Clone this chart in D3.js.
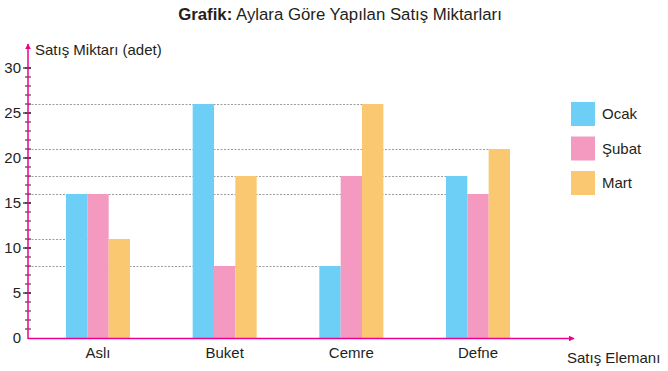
<!DOCTYPE html>
<html>
<head>
<meta charset="utf-8">
<script src="https://cdn.jsdelivr.net/npm/d3@7"></script>
<style>
  body { margin: 0; background: #fff; }
  text { font-family: "Liberation Sans", Arial, sans-serif; fill: #231f20; }
</style>
</head>
<body>
<svg id="chart" width="668" height="371"></svg>
<script>
// data
var people = ["Aslı", "Buket", "Cemre", "Defne"];
var months = ["Ocak", "Şubat", "Mart"];
var ocak = [16, 26, 8, 18];
var subat = [16, 8, 18, 16];
var mart = [11, 18, 26, 21];
var yTicks = [0, 5, 10, 15, 20, 25, 30];
var colors = ["#6dcff6", "#f49ac1", "#f9c870"];

var svg = d3.select("#chart"),
    axisColor = "#ec008c",
    margin = { left: 28, bottom: 338, top: 68 };

var series = [ocak, subat, mart];
var rows = people.map((p, i) => ({ name: p, values: series.map((s) => s[i]) }));

var x = d3.scalePoint().domain(people).range([98, 478]);
var x1 = d3.scaleBand().domain(months).range([-32, 32]);
var y = d3.scaleLinear().domain([0, 30]).range([margin.bottom, margin.top]);

// dotted guide lines: from the axis to the last bar that has that value
var guides = [];
rows.forEach((r, i) => r.values.forEach((v, j) => {
    var xe = x(r.name) + x1(months[j]);
    var g = guides.find((d) => d.v == v);
    if (g) g.x = Math.max(g.x, xe); else guides.push({ v: v, x: xe });
}));
svg.append("g").selectAll("line").data(guides).join("line")
    .attr("x1", margin.left).attr("x2", (d) => d.x)
    .attr("y1", (d) => y(d.v) + 0.5).attr("y2", (d) => y(d.v) + 0.5)
    .attr("stroke", "#9d9d9d").attr("stroke-width", 1)
    .attr("stroke-dasharray", "2,1.5");

// bars
svg.append("g").selectAll("g").data(rows).join("g")
    .attr("transform", (d) => `translate(${x(d.name)},0)`)
    .selectAll("rect").data((d) => d.values).join("rect")
    .attr("x", (d, j) => x1(months[j]))
    .attr("width", x1.bandwidth())
    .attr("y", (d) => y(d))
    .attr("height", (d) => y(0) - y(d))
    .attr("fill", (d, j) => colors[j]);

// y axis: minor ticks every unit, labels every 5
var yAxis = svg.append("g");
yAxis.selectAll(".minor").data(d3.range(1, 31)).join("line")
    .attr("x1", margin.left - 3).attr("x2", margin.left + 3)
    .attr("y1", (d) => y(d)).attr("y2", (d) => y(d))
    .attr("stroke", "#231f20").attr("stroke-width", 1);
yAxis.selectAll(".major").data(yTicks.filter((d) => d > 0)).join("line")
    .attr("x1", margin.left - 5).attr("x2", margin.left + 3)
    .attr("y1", (d) => y(d)).attr("y2", (d) => y(d))
    .attr("stroke", "#231f20").attr("stroke-width", 1.2);
yAxis.selectAll("text").data(yTicks).join("text")
    .attr("x", 21).attr("y", (d) => y(d) + 5)
    .attr("text-anchor", "end").style("font-size", "15px")
    .text((d) => d);

// axis lines with arrows
var defs = svg.append("defs");
defs.append("marker").attr("id", "arrow")
    .attr("viewBox", "0 0 10 10").attr("refX", 9).attr("refY", 5)
    .attr("markerWidth", 4).attr("markerHeight", 4).attr("orient", "auto")
    .append("path").attr("d", "M0,0L10,5L0,10Z").attr("fill", axisColor);
svg.append("line")
    .attr("x1", margin.left).attr("x2", margin.left)
    .attr("y1", margin.bottom + 1).attr("y2", 44)
    .attr("stroke", axisColor).attr("stroke-width", 1.5)
    .attr("marker-end", "url(#arrow)");
svg.append("line")
    .attr("x1", margin.left).attr("x2", 574)
    .attr("y1", margin.bottom + 0.5).attr("y2", margin.bottom + 0.5)
    .attr("stroke", axisColor).attr("stroke-width", 1.5)
    .attr("marker-end", "url(#arrow)");

// category labels
svg.append("g").selectAll("text").data(people).join("text")
    .attr("x", (d) => x(d)).attr("y", 358)
    .attr("text-anchor", "middle").style("font-size", "15px")
    .text((d) => d);

// axis titles
svg.append("text").attr("x", 35).attr("y", 55)
    .style("font-size", "15px").text("Satış Miktarı (adet)");
svg.append("text").attr("x", 567).attr("y", 363)
    .style("font-size", "15px").text("Satış Elemanı");

// title
var title = svg.append("text").attr("x", 340).attr("y", 20)
    .attr("text-anchor", "middle").style("font-size", "16.8px");
title.append("tspan").style("font-weight", "bold").text("Grafik:");
title.append("tspan").text(" Aylara Göre Yapılan Satış Miktarları");

// legend
var legend = svg.append("g").selectAll("g").data(months).join("g")
    .attr("transform", (d, i) => `translate(571,${102 + i * 34.5})`);
legend.append("rect").attr("width", 24).attr("height", 24)
    .attr("fill", (d, i) => colors[i]);
legend.append("text").attr("x", 31).attr("y", 17)
    .style("font-size", "15px").text((d) => d);
</script>
</body>
</html>
